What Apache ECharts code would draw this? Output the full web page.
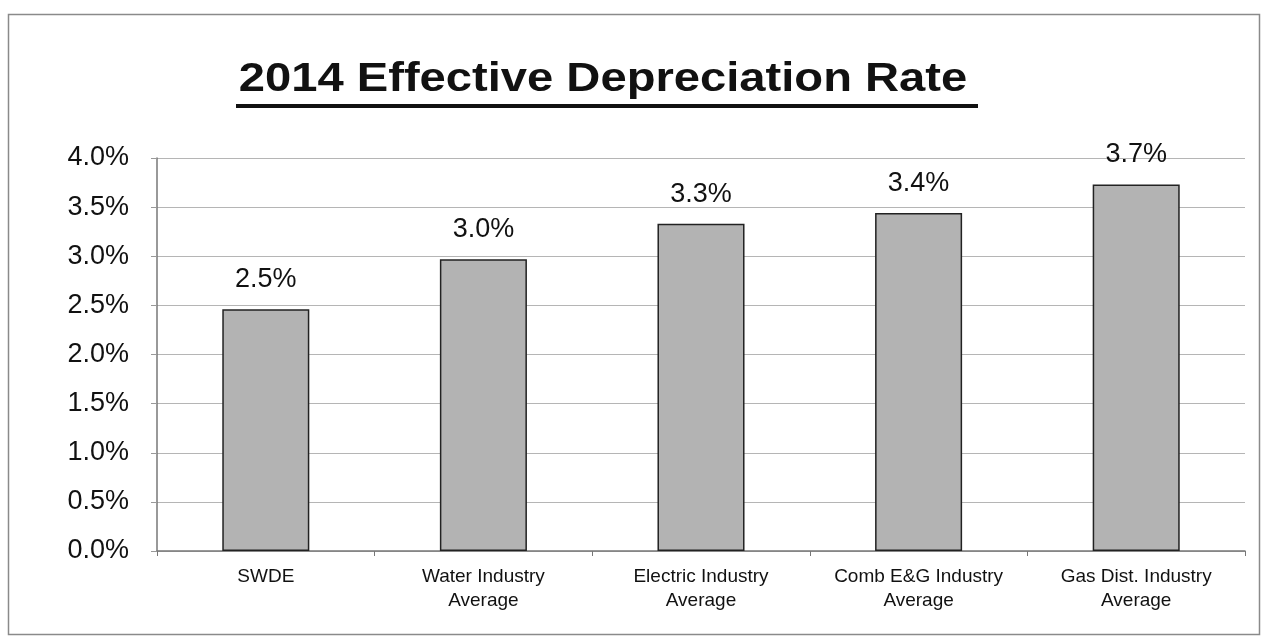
<!DOCTYPE html>
<html>
<head>
<meta charset="utf-8">
<script src="https://cdn.jsdelivr.net/npm/echarts@6/dist/echarts.min.js"></script>
<style>
html,body{margin:0;padding:0;background:#fff;}
#c{width:1264px;height:643px;}
</style>
</head>
<body>
<div id="c"></div>
<script>
var categories = ['SWDE', 'Water Industry\nAverage', 'Electric Industry\nAverage', 'Comb E&G Industry\nAverage', 'Gas Dist. Industry\nAverage'];
var rates = [2.46, 2.97, 3.33, 3.44, 3.73];
var yTicks = [0, 0.5, 1.0, 1.5, 2.0, 2.5, 3.0, 3.5, 4.0];
var titleText = '2014 Effective Depreciation Rate';

var chart = echarts.init(document.getElementById('c'));
chart.setOption({
  backgroundColor: '#fff',
  animation: false,
  graphic: [
    {type: 'rect', left: 6, top: 12, shape: {width: 1251, height: 620}, style: {fill: 'none', stroke: '#8a8a8a', lineWidth: 1.5}},
    {type: 'text', x: 603, y: 79.5, scaleX: 1.15, scaleY: 1,
      style: {text: titleText, fontFamily: 'Liberation Sans, Arial', fontSize: 41, fontWeight: 'bold', fill: '#111', align: 'center', verticalAlign: 'middle'}},
    {type: 'rect', left: 236, top: 104, shape: {width: 742, height: 4}, style: {fill: '#111'}}
  ],
  grid: {left: 157, right: 19, top: 158, bottom: 92},
  xAxis: {
    type: 'category',
    data: categories,
    axisLine: {lineStyle: {color: '#777', width: 1.5}},
    axisTick: {show: true, length: 5, lineStyle: {color: '#777'}},
    axisLabel: {fontFamily: 'Liberation Sans, Arial', fontSize: 19, color: '#111', margin: 14, lineHeight: 24, interval: 0}
  },
  yAxis: {
    type: 'value',
    min: yTicks[0],
    max: yTicks[yTicks.length - 1],
    interval: 0.5,
    axisLine: {show: true, lineStyle: {color: '#777', width: 1.5}},
    axisTick: {show: true, length: 6, lineStyle: {color: '#999'}},
    splitLine: {lineStyle: {color: '#b5b5b5', width: 1.2}},
    axisLabel: {
      fontFamily: 'Liberation Sans, Arial', fontSize: 27, color: '#111', margin: 28,
      formatter: function (v) { return v.toFixed(1) + '%'; }
    }
  },
  series: [{
    type: 'bar',
    data: rates,
    barWidth: '40%',
    itemStyle: {color: '#b3b3b3', borderColor: '#222', borderWidth: 1.5},
    label: {
      show: true,
      position: 'top',
      distance: 16,
      fontFamily: 'Liberation Sans, Arial',
      fontSize: 27,
      color: '#111',
      formatter: function (p) { return p.value.toFixed(1) + '%'; }
    }
  }]
});
</script>
</body>
</html>
